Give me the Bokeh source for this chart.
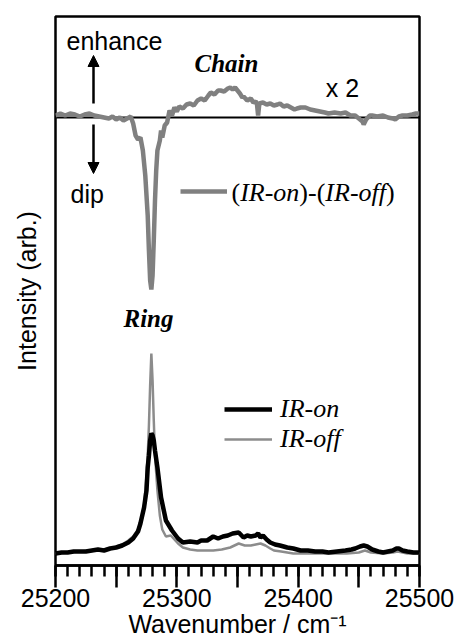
from bokeh.plotting import figure
from bokeh.models import (Span, Label, Arrow, NormalHead, SingleIntervalTicker,
                          FixedTicker, Range1d, Legend, LegendItem)
from bokeh.embed import file_html
from bokeh.resources import INLINE

# ---------------- data ----------------
# (IR-on)-(IR-off) difference trace (x 2), offset upward
diff_wn = [25200, 25204, 25208, 25212, 25216, 25220, 25224, 25228, 25232, 25236,
           25240, 25244, 25247, 25250, 25253, 25256, 25259, 25262, 25264, 25266,
           25268, 25270, 25272, 25274, 25276, 25277, 25278, 25279, 25280, 25281,
           25282, 25283, 25284, 25286, 25287, 25288, 25290, 25292, 25294, 25296,
           25298, 25300, 25302, 25305, 25308, 25311, 25314, 25317, 25320, 25323,
           25326, 25328, 25331, 25334, 25336, 25339, 25342, 25344, 25346, 25348,
           25350, 25352, 25354, 25355, 25358, 25361, 25363, 25365, 25366, 25367,
           25368, 25371, 25374, 25377, 25380, 25383, 25385, 25388, 25391, 25394,
           25397, 25399, 25402, 25406, 25410, 25414, 25418, 25422, 25425, 25430,
           25435, 25439, 25443, 25447, 25450, 25453, 25454, 25456, 25459, 25461,
           25465, 25470, 25474, 25478, 25480, 25483, 25486, 25490, 25494, 25497,
           25500]
diff_val = [45.0, 45.2, 45.0, 45.2, 45.1, 44.9, 45.1, 45.2, 45.0, 44.9,
            44.8, 44.7, 44.9, 44.6, 44.8, 44.5, 44.7, 44.9, 44.2, 43.0,
            42.6, 42.8, 41.5, 39.0, 35.0, 31.5, 28.5, 27.6, 29.0, 32.5,
            36.5, 39.5, 41.5, 42.5, 43.5, 42.8, 44.0, 44.3, 45.5, 45.0,
            45.8, 45.4, 45.9, 45.7, 46.1, 46.2, 46.0, 46.5, 46.7, 46.5,
            47.0, 47.3, 47.1, 47.5, 47.5, 47.4, 47.7, 47.8, 47.6, 47.8,
            47.5, 47.2, 46.8, 46.9, 46.5, 46.7, 46.3, 46.4, 46.2, 45.0,
            46.2, 46.3, 46.1, 46.2, 46.0, 46.1, 46.2, 45.9, 46.0, 45.8,
            45.6, 45.7, 45.8, 45.8, 45.6, 45.5, 45.4, 45.3, 45.2, 45.3,
            45.2, 45.3, 45.0, 45.0, 44.7, 44.4, 44.1, 44.6, 45.0, 45.0,
            44.9, 45.0, 44.8, 44.7, 44.6, 44.9, 45.0, 45.0, 45.1, 45.2,
            45.2]
diff_zero = 44.8

# IR-on spectrum
on_wn = [25200, 25205, 25210, 25215, 25220, 25225, 25230, 25235, 25240, 25245,
         25250, 25255, 25260, 25264, 25268, 25270, 25273, 25275, 25276, 25277,
         25278, 25279, 25280, 25281, 25282, 25284, 25287, 25291, 25296, 25301,
         25305, 25311, 25317, 25320, 25325, 25330, 25334, 25338, 25342, 25346,
         25351, 25355, 25358, 25361, 25365, 25367, 25369, 25371, 25374, 25377,
         25381, 25385, 25391, 25396, 25402, 25408, 25414, 25420, 25425, 25432,
         25439, 25444, 25447, 25451, 25454, 25457, 25461, 25466, 25470, 25474,
         25478, 25481, 25483, 25486, 25490, 25495, 25500]
on_val = [1.2, 1.3, 1.3, 1.4, 1.4, 1.4, 1.5, 1.6, 1.5, 1.7,
          1.8, 2.0, 2.3, 2.7, 3.4, 4.2, 5.8, 7.5, 9.8, 11.0,
          12.5, 13.2, 13.0, 12.5, 11.5, 9.8, 6.8, 4.5, 3.5, 2.7,
          2.3, 2.4, 2.3, 2.5, 2.5, 2.9, 2.7, 2.9, 3.0, 3.2,
          3.3, 2.8, 3.0, 2.9, 3.0, 3.2, 2.8, 3.0, 2.6, 2.3,
          2.1, 2.0, 1.8, 1.7, 1.5, 1.5, 1.4, 1.4, 1.3, 1.4,
          1.5, 1.6, 1.7, 1.9, 2.0, 1.9, 1.6, 1.4, 1.3, 1.4,
          1.5, 1.7, 1.7, 1.5, 1.4, 1.3, 1.3]

# IR-off spectrum
off_wn = [25200, 25210, 25220, 25230, 25240, 25248, 25255, 25260, 25264, 25268,
          25271, 25273, 25275, 25276, 25277, 25278, 25279, 25280, 25281, 25282,
          25284, 25286, 25288, 25291, 25295, 25301, 25305, 25311, 25317, 25325,
          25330, 25337, 25344, 25351, 25356, 25361, 25365, 25369, 25373, 25377,
          25380, 25386, 25391, 25396, 25402, 25410, 25420, 25430, 25440, 25450,
          25455, 25460, 25470, 25478, 25482, 25490, 25500]
off_val = [1.2, 1.3, 1.4, 1.5, 1.6, 1.8, 2.1, 2.5, 2.9, 3.6,
           4.6, 6.0, 9.0, 11.0, 14.0, 18.0, 21.2, 18.5, 14.5, 11.0,
           7.5, 5.0, 3.6, 2.9, 3.0, 2.2, 1.8, 1.6, 1.5, 1.5,
           1.5, 1.6, 1.8, 2.2, 2.0, 2.0, 2.1, 2.2, 2.0, 1.7,
           1.5, 1.4, 1.3, 1.2, 1.2, 1.2, 1.2, 1.2, 1.2, 1.3,
           1.5, 1.3, 1.2, 1.3, 1.4, 1.2, 1.2]

x_labeled_ticks = [25200, 25300, 25400, 25500]
x_major_step = 50
x_minor_per_major = 5

# ---------------- layout helpers (pixel -> data, for annotations only) ----------------
X0, X1 = 25200, 25500
Y0, Y1 = 0.0, 54.9
FL, FR, FT, FB = 55, 419, 16, 565


def X(px):
    return X0 + (px - FL) * (X1 - X0) / (FR - FL)


def Y(py):
    return Y0 + (FB - py) * (Y1 - Y0) / (FB - FT)


SANS = "Liberation Sans"
SERIF = "Liberation Serif"
FS_SANS = "25px"

p = figure(width=458, height=642, x_range=Range1d(X0, X1), y_range=Range1d(Y0, Y1),
           output_backend="svg", toolbar_location=None,
           min_border_left=FL, min_border_right=458 - FR, min_border_top=FT,
           min_border_bottom=642 - FB)
p.grid.visible = False
p.outline_line_color = "black"
p.outline_line_width = 2.5
p.background_fill_color = "white"
p.border_fill_color = "white"

xa = p.xaxis[0]
xa.ticker = SingleIntervalTicker(interval=x_major_step, num_minor_ticks=x_minor_per_major)
all_major = list(range(X0, X1 + 1, x_major_step))
xa.major_label_overrides = {t: "" for t in all_major if t not in x_labeled_ticks}
xa.major_tick_in = 0
xa.major_tick_out = 22
xa.minor_tick_in = 0
xa.minor_tick_out = 11
xa.major_tick_line_width = 2.5
xa.minor_tick_line_width = 2.5
xa.axis_line_width = 2.5
xa.major_label_text_font = SANS
xa.major_label_text_font_size = FS_SANS
xa.major_label_text_color = "black"
xa.major_label_standoff = 1
xa.axis_label = "Wavenumber / cm\u207b\u00b9"
xa.axis_label_text_font = SANS
xa.axis_label_text_font_size = FS_SANS
xa.axis_label_text_font_style = "normal"
xa.axis_label_text_color = "black"
xa.axis_label_standoff = 0

ya = p.yaxis[0]
ya.ticker = FixedTicker(ticks=[])
ya.major_tick_out = 0
ya.major_tick_in = 0
ya.minor_tick_out = 0
ya.axis_line_color = None
ya.major_label_text_font_size = "0px"
ya.axis_label = "Intensity (arb.)"
ya.axis_label_text_font = SANS
ya.axis_label_text_font_size = FS_SANS
ya.axis_label_text_font_style = "normal"
ya.axis_label_text_color = "black"
ya.axis_label_standoff = 15

p.add_layout(Span(location=diff_zero, dimension="width", line_color="black",
                  line_width=2, level="underlay"))

r_off = p.line(off_wn, off_val, line_color="#8c8c8c", line_width=2.5)
r_on = p.line(on_wn, on_val, line_color="black", line_width=4.5)
r_diff = p.line(diff_wn, diff_val, line_color="#808080", line_width=4.5)

# legends
leg_diff = Legend(items=[LegendItem(label="(IR-on)-(IR-off)", renderers=[r_diff])],
                  location=(180 - FL, FB - 192 - 14), orientation="vertical",
                  glyph_width=47, glyph_height=28, label_height=28, label_standoff=4,
                  padding=0, margin=0, spacing=0, border_line_color=None,
                  background_fill_alpha=0, label_text_alpha=0,
                  label_text_font=SERIF, label_text_font_size="26px")
leg_ir = Legend(items=[LegendItem(label="IR-on", renderers=[r_on]),
                       LegendItem(label="IR-off", renderers=[r_off])],
                location=(224 - FL, FB - 440 - 14), orientation="vertical",
                glyph_width=48, glyph_height=28, label_height=28, label_standoff=8,
                padding=0, margin=0, spacing=0, border_line_color=None,
                background_fill_alpha=0, label_text_font=SERIF,
                label_text_font_style="italic", label_text_font_size="26px",
                label_text_color="black")
p.add_layout(leg_diff)
p.add_layout(leg_ir)

# mixed-style legend text for the difference trace
fs = 26
pieces = [("(", "normal", 0.333), ("IR-on", "italic", 2.277), (")-(", "normal", 1.0),
          ("IR-off", "italic", 2.333), (")", "normal", 0.333)]
off = 0.0
for txt, style, w in pieces:
    p.add_layout(Label(x=X(231), y=Y(192), x_offset=off, text=txt, text_font=SERIF,
                       text_font_style=style, text_font_size=f"{fs}px",
                       text_baseline="middle", text_align="left", text_color="black"))
    off += w * fs

# annotations
def sans_label(txt, px, py, align="left"):
    p.add_layout(Label(x=X(px), y=Y(py), text=txt, text_font=SANS, text_font_size=FS_SANS,
                       text_baseline="middle", text_align=align, text_color="black"))


sans_label("enhance", 66, 40)
sans_label("dip", 70, 193)
sans_label("x 2", 342, 87, "center")

for txt, px, py in [("Chain", 226, 63), ("Ring", 148, 318)]:
    p.add_layout(Label(x=X(px), y=Y(py), text=txt, text_font=SERIF,
                       text_font_style="bold italic", text_font_size="25px",
                       text_baseline="middle", text_align="center", text_color="black"))

p.add_layout(Arrow(end=NormalHead(size=11, fill_color="black", line_color="black"),
                   x_start=X(93), y_start=Y(103), x_end=X(93), y_end=Y(55),
                   line_color="black", line_width=2.5))
p.add_layout(Arrow(end=NormalHead(size=11, fill_color="black", line_color="black"),
                   x_start=X(93), y_start=Y(124), x_end=X(93), y_end=Y(173),
                   line_color="black", line_width=2.5))

open("out.html", "w").write(file_html(p, INLINE))
